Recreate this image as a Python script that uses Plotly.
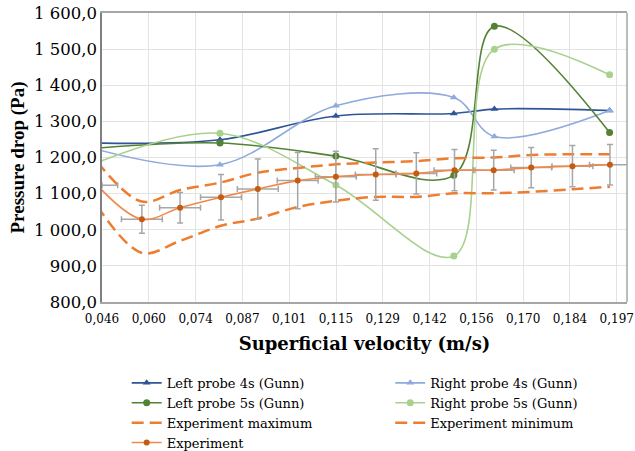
import plotly.graph_objects as go

# ---------------- data ----------------
x_gunn = [0.0446, 0.0806, 0.1146, 0.1492, 0.1611, 0.1949]
left_4s = [1240, 1249, 1315, 1322, 1334, 1330]
right_4s = [1222, 1180, 1343, 1366, 1258, 1330]
left_5s = [1226, 1240, 1204, 1151, 1563, 1269]
right_5s = [1186, 1267, 1124, 927, 1500, 1429]

x_exp = [0.0446, 0.0577, 0.0689, 0.0809, 0.0917, 0.1034, 0.1146,
         0.1263, 0.1382, 0.1494, 0.1609, 0.1719, 0.1840, 0.1950]
exp_max = [1188, 1078, 1110, 1131, 1158, 1171, 1181,
           1186, 1190, 1198, 1200, 1207, 1209, 1209]
exp_min = [1066, 936, 969, 1011, 1031, 1063, 1080,
           1091, 1091, 1101, 1101, 1105, 1112, 1119]
experiment = [1123, 1029, 1061, 1090, 1113, 1136, 1147,
              1153, 1156, 1165, 1165, 1172, 1176, 1180]
exp_err_y = [40, 39, 42, 63, 83, 78, 70, 71, 57, 57, 55, 56, 57, 56]
exp_err_x = [0.006] * 14

x_min, x_max = 0.046, 0.200
x_tickvals = [0.046, 0.05973, 0.07345, 0.08718, 0.10091, 0.11464,
              0.12836, 0.14209, 0.15582, 0.16955, 0.18327, 0.197]
x_ticktext = ["0,046", "0,060", "0,074", "0,087", "0,101", "0,115",
              "0,129", "0,142", "0,156", "0,170", "0,184", "0,197"]
y_tickvals = [800, 900, 1000, 1100, 1200, 1300, 1400, 1500, 1600]
y_ticktext = ["800,0", "900,0", "1 000,0", "1 100,0", "1 200,0",
              "1 300,0", "1 400,0", "1 500,0", "1 600,0"]

# ---------------- figure ----------------
fig = go.Figure()

def gunn(name, y, color, symbol, legend):
    fig.add_trace(go.Scatter(
        x=x_gunn, y=y, name=name, mode="lines+markers", legend=legend,
        line=dict(color=color, width=1.6, shape="spline", smoothing=1),
        marker=dict(color=color, symbol=symbol, size=7),
    ))

gunn("Left probe 4s (Gunn)", left_4s, "#2F5597", "triangle-up", "legend")
gunn("Right probe 4s (Gunn)", right_4s, "#8FAADC", "triangle-up", "legend2")
gunn("Left probe 5s (Gunn)", left_5s, "#548235", "circle", "legend")
gunn("Right probe 5s (Gunn)", right_5s, "#A9D18E", "circle", "legend2")

for name, y, lg in [("Experiment maximum", exp_max, "legend"),
                    ("Experiment minimum", exp_min, "legend2")]:
    fig.add_trace(go.Scatter(
        x=x_exp, y=y, name=name, mode="lines", legend=lg,
        line=dict(color="#ED7D31", width=2.5, dash="12px,6px",
                  shape="spline", smoothing=1),
    ))

# first measured point lies just left of the axis start: only the part of
# its horizontal error bar that is inside the plot area is visible
first_visible_minus = x_exp[0] + exp_err_x[0] - x_min
fig.add_trace(go.Scatter(
    x=[x_exp[0] + exp_err_x[0]], y=[experiment[0]], mode="markers",
    marker=dict(size=0.1, color="rgba(0,0,0,0)"), showlegend=False,
    hoverinfo="skip",
    error_x=dict(type="data", symmetric=False, array=[0],
                 arrayminus=[first_visible_minus], color="#A6A6A6",
                 thickness=1.5, width=3),
))

err_y_plot = [0] + exp_err_y[1:]
err_x_plot = [0] + exp_err_x[1:]
fig.add_trace(go.Scatter(
    x=x_exp, y=experiment, name="Experiment", mode="lines+markers",
    legend="legend",
    line=dict(color="#F08A4B", width=1.6, shape="spline", smoothing=1),
    marker=dict(color="#C55A11", symbol="circle", size=6),
    error_y=dict(type="data", array=err_y_plot, color="#A6A6A6",
                 thickness=1.5, width=3),
    error_x=dict(type="data", array=err_x_plot, color="#A6A6A6",
                 thickness=1.5, width=3),
))

legend_common = dict(
    orientation="v", xanchor="left", yanchor="top",
    font=dict(family="DejaVu Serif", size=13, color="#000000"),
    bgcolor="rgba(0,0,0,0)", itemwidth=30, tracegroupgap=0,
    traceorder="normal",
)

fig.update_layout(
    width=635, height=451,
    margin=dict(l=102, r=8, t=13, b=149, autoexpand=False),
    paper_bgcolor="white", plot_bgcolor="white",
    font=dict(family="DejaVu Serif", color="#000000"),
    showlegend=True,
    legend=dict(x=0.047, y=-0.228, **legend_common),
    legend2=dict(x=0.549, y=-0.228, **legend_common),
    xaxis=dict(
        range=[x_min, x_max], tickmode="array",
        tickvals=x_tickvals, ticktext=x_ticktext,
        showgrid=True, gridcolor="#E3E3E3", gridwidth=1,
        showline=True, linecolor="#A6A6A6", linewidth=1.5, mirror=True,
        zeroline=False, ticks="", ticklabelstandoff=5,
        tickfont=dict(family="DejaVu Serif", size=12, color="#000000"),
        title=dict(text="<b>Superficial velocity (m/s)</b>", standoff=12,
                   font=dict(family="DejaVu Serif", size=18, color="#000000")),
    ),
    yaxis=dict(
        range=[800, 1600], tickmode="array",
        tickvals=y_tickvals, ticktext=y_ticktext,
        showgrid=True, gridcolor="#E3E3E3", gridwidth=1,
        showline=True, linecolor="#7F7F7F", linewidth=1.5, mirror=False,
        zeroline=False, ticks="",
        tickfont=dict(family="DejaVu Serif", size=16.5, color="#000000"),
        title=dict(text="<b>Pressure drop (Pa)</b>", standoff=4,
                   font=dict(family="Liberation Serif", size=19, color="#000000")),
    ),
)

# right frame edge of the plot area
fig.add_shape(type="line", xref="paper", yref="paper", x0=1, x1=1, y0=0, y1=1,
              line=dict(color="#A6A6A6", width=1.5))

fig.write_html("out.html")
